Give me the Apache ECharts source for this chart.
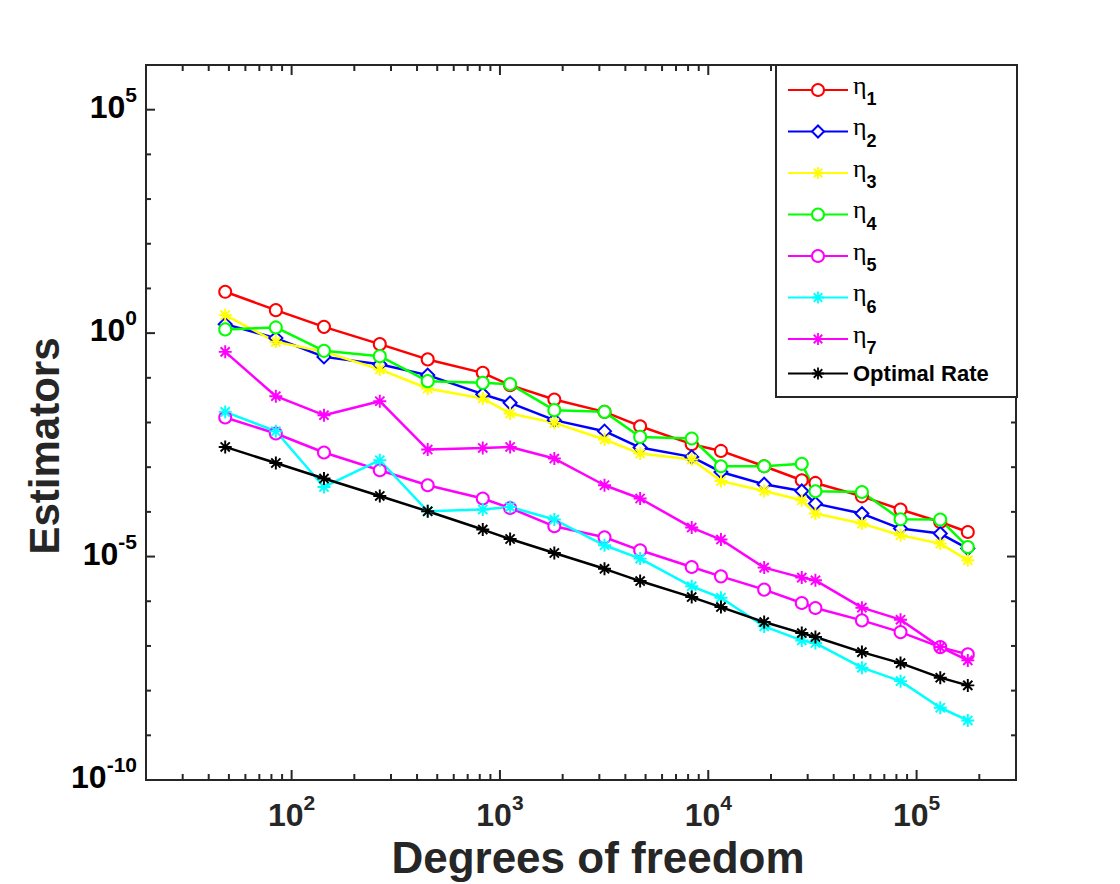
<!DOCTYPE html>
<html>
<head>
<meta charset="utf-8">
<title>Estimators vs degrees of freedom</title>
<script src="https://cdn.jsdelivr.net/npm/echarts@6/dist/echarts.min.js"></script>
<style>
  html, body { margin: 0; padding: 0; background: #fff; }
  #chart { width: 1120px; height: 884px; }
</style>
</head>
<body>
<div id="chart"></div>
<script>
// degrees of freedom (x) and the estimator values
var dof = [48, 84, 143, 265, 450, 827, 1119, 1824, 3176, 4709, 8327, 11504, 18547, 28105, 32686, 54636, 83727, 129900, 176100];

var eta1 = [8.41, 3.27, 1.38, 0.567, 0.258, 0.129, 0.0685, 0.0327, 0.0173, 0.00826, 0.00327, 0.00231, 0.00105, 5.1e-4, 4.44e-4, 2.23e-4, 1.13e-4, 5.94e-5, 3.55e-5];
var eta2 = [1.59, 0.773, 0.294, 0.202, 0.115, 0.043, 0.0275, 0.0113, 0.0064, 0.00275, 0.0017, 7.83e-4, 4.15e-4, 2.94e-4, 1.53e-4, 9.16e-5, 4.23e-5, 3.27e-5, 1.51e-5];
var eta3 = [2.53, 0.638, 0.381, 0.154, 0.0577, 0.0345, 0.0159, 0.0098, 0.00416, 0.00202, 0.00148, 4.92e-4, 2.94e-4, 1.82e-4, 9.16e-5, 5.47e-5, 2.99e-5, 1.95e-5, 8.24e-6];
var eta4 = [1.21, 1.34, 0.402, 0.305, 0.0841, 0.0771, 0.0721, 0.0189, 0.0173, 0.00476, 0.00438, 0.00105, 0.00105, 0.00119, 2.89e-4, 2.79e-4, 6.83e-5, 6.73e-5, 1.64e-5];
var eta5 = [0.01294, 0.00567, 0.00213, 8.55e-4, 3.94e-4, 1.99e-4, 1.22e-4, 4.76e-5, 2.70e-5, 1.38e-5, 5.83e-6, 3.61e-6, 1.82e-6, 9.12e-7, 7.05e-7, 3.73e-7, 2.04e-7, 9.42e-8, 6.47e-8];
var eta6 = [0.01727, 0.00638, 3.61e-4, 0.00143, 1.03e-4, 1.13e-4, 1.29e-4, 6.73e-5, 1.79e-5, 9.0e-6, 2.16e-6, 1.20e-6, 2.74e-7, 1.33e-7, 1.16e-7, 3.26e-8, 1.63e-8, 4.14e-9, 2.15e-9];
var eta7 = [0.381, 0.0388, 0.01457, 0.030, 0.00248, 0.0027, 0.00284, 0.00156, 3.94e-4, 1.99e-4, 4.45e-5, 2.40e-5, 5.66e-6, 3.38e-6, 2.94e-6, 7.19e-7, 3.87e-7, 9.42e-8, 4.75e-8];
var optimalRate = [0.00284, 0.00124, 5.57e-4, 2.27e-4, 1.03e-4, 4.02e-5, 2.47e-5, 1.20e-5, 5.32e-6, 2.83e-6, 1.24e-6, 7.41e-7, 3.42e-7, 1.94e-7, 1.58e-7, 7.28e-8, 4.13e-8, 1.95e-8, 1.31e-8];

var seriesNames = ['η1', 'η2', 'η3', 'η4', 'η5', 'η6', 'η7', 'Optimal Rate'];

// axis limits and labelled ticks
var xMin = 20, xMax = 3e5;
var yMin = 1e-10, yMax = 1e6;
var xMajorTicks = [1e2, 1e3, 1e4, 1e5];
var yMajorTicks = [1e-10, 1e-5, 1e0, 1e5];

var AXIS_COLOR = '#262626';
var FONT = '"Liberation Sans", Arial, Helvetica, sans-serif';

// minor ticks: 2..9 of each decade on x, every decade on y
var xMinorTicks = [];
[10, 100, 1000, 10000, 100000].forEach(function (d) {
    for (var m = 2; m <= 9; m++) {
        var v = m * d;
        if (v > xMin && v < xMax) xMinorTicks.push(v);
    }
});
var yMinorTicks = [];
for (var e = -9; e <= 5; e++) {
    if (e % 5 !== 0) yMinorTicks.push(Math.pow(10, e));
}

// matlab style asterisk marker
var asterisk = 'path://M8.5 0L11.5 0L11.5 20L8.5 20Z M0 8.5L20 8.5L20 11.5L0 11.5Z ' +
    'M3.99 1.87L18.13 16.01L16.01 18.13L1.87 3.99Z M16.01 1.87L18.13 3.99L3.99 18.13L1.87 16.01Z';

function pairs(values) {
    var out = [];
    for (var i = 0; i < dof.length; i++) out.push([dof[i], values[i]]);
    return out;
}

function expOf(v) {
    return Math.round(Math.log(v) / Math.LN10);
}

function isDecade(v) {
    var l = Math.log(v) / Math.LN10;
    return Math.abs(l - Math.round(l)) < 1e-6;
}

var labelRich = {
    b: {fontSize: 32, fontWeight: 'bold', fontFamily: FONT, color: AXIS_COLOR, lineHeight: 46},
    s: {fontSize: 21, fontWeight: 'bold', fontFamily: FONT, color: AXIS_COLOR, lineHeight: 21, verticalAlign: 'top'}
};

function lineSeries(name, values, color, symbol, size) {
    var hollow = symbol.indexOf('empty') === 0;
    return {
        name: name,
        type: 'line',
        data: pairs(values),
        symbol: symbol,
        symbolSize: size,
        showAllSymbol: true,
        lineStyle: {color: color, width: 2.5},
        itemStyle: {color: color, borderColor: color, borderWidth: hollow ? 2 : 0},
        emphasis: {disabled: true},
        z: 2
    };
}

var tickStyle = {stroke: AXIS_COLOR, lineWidth: 2};

var xTickItems = xMajorTicks.map(function (v) { return [v, yMin, 10]; })
    .concat(xMinorTicks.map(function (v) { return [v, yMin, 6]; }));
var yTickItems = yMajorTicks.map(function (v) { return [xMin, v, 9, 1]; })
    .concat(yMinorTicks.map(function (v) { return [xMin, v, 5, 0]; }));

var myChart = echarts.init(document.getElementById('chart'), null, {renderer: 'svg'});

var option = {
    backgroundColor: '#fff',
    animation: false,
    grid: {
        left: 146,
        top: 65,
        right: 104,
        bottom: 104,
        show: true,
        borderColor: AXIS_COLOR,
        borderWidth: 2,
        backgroundColor: 'transparent'
    },
    xAxis: {
        type: 'log',
        logBase: 10,
        min: xMin,
        max: xMax,
        axisLine: {show: false},
        axisTick: {show: false},
        splitLine: {show: false},
        axisLabel: {
            margin: 12,
            formatter: function (v) {
                if (!isDecade(v) || v <= xMin || v >= xMax) return '';
                return '{b|10}{s|' + expOf(v) + '}';
            },
            rich: labelRich
        }
    },
    yAxis: {
        type: 'log',
        logBase: 10,
        min: yMin,
        max: yMax,
        axisLine: {show: false},
        axisTick: {show: false},
        splitLine: {show: false},
        axisLabel: {show: false}
    },
    legend: {
        data: seriesNames,
        orient: 'vertical',
        left: 787,
        top: 72,
        padding: 0,
        itemWidth: 60,
        itemHeight: 15,
        itemGap: 5.5,
        selectedMode: false,
        z: 6,
        formatter: function (name) {
            if (name.charAt(0) === 'η') return '{e|η}{n|' + name.slice(1) + '}';
            return '{o|' + name + '}';
        },
        textStyle: {
            color: '#000',
            rich: {
                e: {fontFamily: '"Liberation Serif", "DejaVu Serif", serif', fontSize: 26, color: '#000', lineHeight: 36, verticalAlign: 'top'},
                n: {fontFamily: FONT, fontWeight: 'bold', fontSize: 18, color: '#000', lineHeight: 14, verticalAlign: 'bottom'},
                o: {fontFamily: FONT, fontWeight: 'bold', fontSize: 22, color: '#000', padding: [5, 0, 5, 0]}
            }
        }
    },
    graphic: [
        {
            type: 'rect',
            z: 3,
            shape: {x: 776, y: 65, width: 241, height: 332},
            style: {fill: '#fff', stroke: AXIS_COLOR, lineWidth: 2}
        },
        {
            type: 'text',
            x: 598,
            y: 857,
            style: {
                text: 'Degrees of freedom',
                fill: AXIS_COLOR,
                fontFamily: FONT,
                fontWeight: 'bold',
                fontSize: 44,
                align: 'center',
                verticalAlign: 'middle'
            }
        },
        {
            type: 'text',
            x: 44,
            y: 446,
            rotation: Math.PI / 2,
            style: {
                text: 'Estimators',
                fill: AXIS_COLOR,
                fontFamily: FONT,
                fontWeight: 'bold',
                fontSize: 42,
                align: 'center',
                verticalAlign: 'middle'
            }
        }
    ],
    series: [
        lineSeries('η1', eta1, '#FF0000', 'emptyCircle', 12),
        lineSeries('η2', eta2, '#0000FF', 'emptyDiamond', 13),
        lineSeries('η3', eta3, '#FFFF00', asterisk, 13),
        lineSeries('η4', eta4, '#00FF00', 'emptyCircle', 12),
        lineSeries('η5', eta5, '#FF00FF', 'emptyCircle', 12),
        lineSeries('η6', eta6, '#00FFFF', asterisk, 13),
        lineSeries('η7', eta7, '#FF00FF', asterisk, 13),
        lineSeries('Optimal Rate', optimalRate, '#000000', asterisk, 13),
        {
            // x ticks on bottom and top edges
            type: 'custom',
            silent: true,
            z: 2,
            data: xTickItems,
            renderItem: function (params, api) {
                var v = api.value(0), len = api.value(2);
                var b = api.coord([v, yMin]);
                var t = api.coord([v, yMax]);
                return {
                    type: 'group',
                    children: [
                        {type: 'line', shape: {x1: b[0], y1: b[1], x2: b[0], y2: b[1] - len}, style: tickStyle},
                        {type: 'line', shape: {x1: t[0], y1: t[1], x2: t[0], y2: t[1] + len}, style: tickStyle}
                    ]
                };
            }
        },
        {
            // y ticks on left and right edges, labels at every fifth decade
            type: 'custom',
            silent: true,
            z: 2,
            data: yTickItems,
            renderItem: function (params, api) {
                var v = api.value(1), len = api.value(2), labelled = api.value(3);
                var l = api.coord([xMin, v]);
                var r = api.coord([xMax, v]);
                var children = [
                    {type: 'line', shape: {x1: l[0], y1: l[1], x2: l[0] + len, y2: l[1]}, style: tickStyle},
                    {type: 'line', shape: {x1: r[0], y1: r[1], x2: r[0] - len, y2: r[1]}, style: tickStyle}
                ];
                if (labelled) {
                    children.push({
                        type: 'text',
                        x: l[0] - 9,
                        y: l[1] - 3,
                        style: {
                            text: '{b|10}{s|' + expOf(v) + '}',
                            rich: labelRich,
                            align: 'right',
                            verticalAlign: 'middle'
                        }
                    });
                }
                return {type: 'group', children: children};
            }
        }
    ]
};
myChart.setOption(option);
</script>
</body>
</html>
